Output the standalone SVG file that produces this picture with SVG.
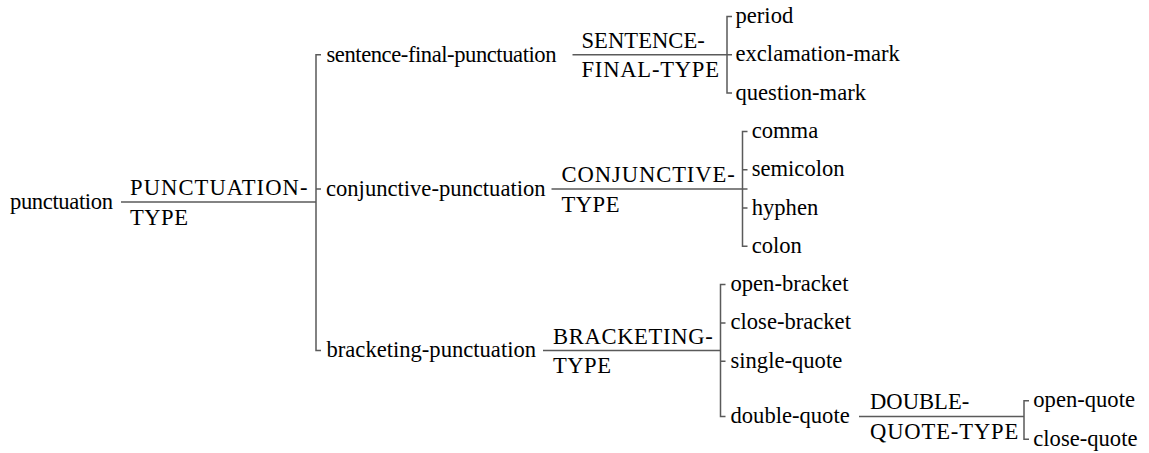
<svg xmlns="http://www.w3.org/2000/svg" width="1149" height="453" viewBox="0 0 1149 453">
<style>
text{font-family:"Liberation Serif","Times New Roman",serif;font-size:22.6px;fill:#000}
.c{fill:none;stroke:#5a5a5a;stroke-width:1.5}
</style>
<rect width="1149" height="453" fill="#fff"/>
<g id="connectors">
<path class="c" d="M121,202H316"/>
<path class="c" d="M321,54.8H316V350.5H321M316,189H321"/>
<path class="c" d="M572.5,54.8H732"/>
<path class="c" d="M732,16.5H727V93.1H732"/>
<path class="c" d="M551.5,189H747.5"/>
<path class="c" d="M747.5,131.4H742.5V246.3H747.5M742.5,169.7H747.5M742.5,208H747.5"/>
<path class="c" d="M543,350.5H720.5"/>
<path class="c" d="M725.5,284.6H720.5V416.5H725.5M720.5,322.9H725.5M720.5,361.2H725.5"/>
<path class="c" d="M859,416.5H1024"/>
<path class="c" d="M1029,400.7H1024V439.3H1029"/>
</g>
<g id="n-punctuation"><text x="10" y="208.5" textLength="103">punctuation</text></g>
<g id="t-punctuation-type"><text x="130" y="195" textLength="177.5">PUNCTUATION-</text><text x="130" y="224.5" textLength="58">TYPE</text></g>
<g id="n-sentence-final"><text x="326.5" y="61.5" textLength="230">sentence-final-punctuation</text></g>
<g id="t-sentence-final-type"><text x="581.5" y="48" textLength="123.3">SENTENCE-</text><text x="581.5" y="77" textLength="137.5">FINAL-TYPE</text></g>
<g id="n-period"><text x="735.5" y="23">period</text></g>
<g id="n-exclamation-mark"><text x="735.5" y="61.3">exclamation-mark</text></g>
<g id="n-question-mark"><text x="735.5" y="99.6">question-mark</text></g>
<g id="n-conjunctive"><text x="326" y="195.5">conjunctive-punctuation</text></g>
<g id="t-conjunctive-type"><text x="561.5" y="182" textLength="173.3">CONJUNCTIVE-</text><text x="561.5" y="211.5" textLength="58">TYPE</text></g>
<g id="n-comma"><text x="751.7" y="137.9">comma</text></g>
<g id="n-semicolon"><text x="751.7" y="176.2">semicolon</text></g>
<g id="n-hyphen"><text x="751.7" y="214.5">hyphen</text></g>
<g id="n-colon"><text x="751.7" y="252.8">colon</text></g>
<g id="n-bracketing"><text x="326.5" y="357">bracketing-punctuation</text></g>
<g id="t-bracketing-type"><text x="553" y="343.5" textLength="159.7">BRACKETING-</text><text x="553" y="373" textLength="58">TYPE</text></g>
<g id="n-open-bracket"><text x="730.5" y="291.1">open-bracket</text></g>
<g id="n-close-bracket"><text x="730.5" y="329.4">close-bracket</text></g>
<g id="n-single-quote"><text x="730.5" y="367.7">single-quote</text></g>
<g id="n-double-quote"><text x="730.5" y="423">double-quote</text></g>
<g id="t-double-quote-type"><text x="870" y="409" textLength="99.3">DOUBLE-</text><text x="870" y="439" textLength="148.3">QUOTE-TYPE</text></g>
<g id="n-open-quote"><text x="1033.3" y="407.2">open-quote</text></g>
<g id="n-close-quote"><text x="1033.3" y="445.8">close-quote</text></g>
</svg>
